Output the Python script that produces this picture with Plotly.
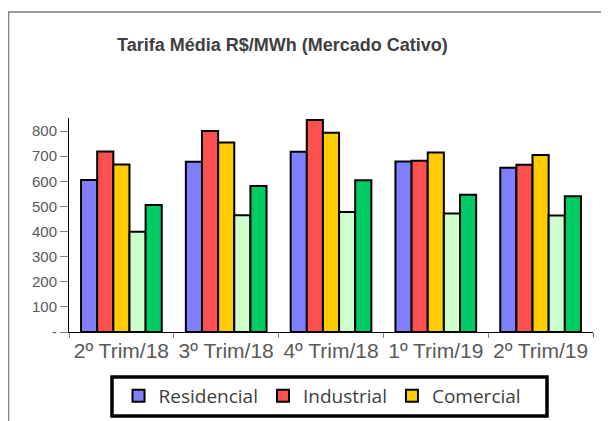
import plotly.graph_objects as go

# Tarifa média por trimestre (R$/MWh)
trimestres = ['2º Trim/18', '3º Trim/18', '4º Trim/18', '1º Trim/19', '2º Trim/19']
residencial = [605, 678, 718, 679, 654]
industrial = [719, 800, 844, 682, 666]
comercial = [667, 754, 793, 715, 705]
rural = [399, 465, 478, 472, 464]
poder_publico = [506, 581, 604, 546, 540]

yticks = [0, 100, 200, 300, 400, 500, 600, 700, 800]
yticktext = ['-', '100', '200', '300', '400', '500', '600', '700', '800']

series = [
    ('Residencial', residencial, '#8080FF', True),
    ('Industrial', industrial, '#FF5050', True),
    ('Comercial', comercial, '#FFCC00', True),
    ('Rural', rural, '#CCFFCC', False),
    ('Poder Público', poder_publico, '#00CC66', False),
]

fig = go.Figure()
for nome, valores, cor, mostra in series:
    fig.add_trace(go.Bar(
        x=trimestres, y=valores, name=nome, showlegend=mostra,
        marker=dict(color=cor, line=dict(color='black', width=2)),
    ))

# a página tem 8px de margem no body, por isso tudo vai 8px para cima/esquerda
fig.update_layout(
    width=609, height=421,
    margin=dict(l=61, r=24, t=110, b=97),
    paper_bgcolor='white', plot_bgcolor='white',
    barmode='group', bargap=0.23, bargroupgap=0,
    font=dict(family='Liberation Sans, Arial', color='#595959'),
    title=dict(
        text='<b>Tarifa Média R$/MWh (Mercado Cativo)</b>',
        x=0.0916, xref='paper', xanchor='left',
        y=1 - 37 / 421, yanchor='middle',
        font=dict(size=18, color='#404040'),
    ),
    legend=dict(
        orientation='h', x=0.0945, xanchor='left', y=-0.21, yanchor='top',
        bgcolor='rgba(0,0,0,0)', borderwidth=0,
        font=dict(family='Open Sans, Liberation Sans', size=19, color='#404040'),
        itemwidth=30,
    ),
    showlegend=True,
)

fig.update_xaxes(
    showline=True, linecolor='black', linewidth=1,
    ticks='outside', tickson='boundaries', ticklen=5, tickcolor='#808080',
    tickfont=dict(size=21, color='#595959'),
)
fig.update_yaxes(
    range=[0, 852], showgrid=False, zeroline=False,
    showline=True, linecolor='black', linewidth=1,
    ticks='outside', ticklen=8, tickcolor='#808080',
    tickvals=yticks, ticktext=yticktext,
    tickfont=dict(size=15, color='#595959'),
)

# moldura externa do gráfico
fig.add_shape(
    type='rect', xref='paper', yref='paper',
    x0=(8.5 - 69) / 524, x1=(620 - 69) / 524,
    y0=(332 - 440) / 214, y1=(332 - 12) / 214,
    line=dict(color='#808080', width=1.5), layer='below',
)
# caixa da legenda
fig.add_shape(
    type='rect', xref='paper', yref='paper',
    x0=(112 - 69) / 524, x1=(547 - 69) / 524,
    y0=(332 - 416) / 214, y1=(332 - 377) / 214,
    line=dict(color='black', width=3.5), fillcolor='white', layer='below',
)

fig.write_html('out.html')
